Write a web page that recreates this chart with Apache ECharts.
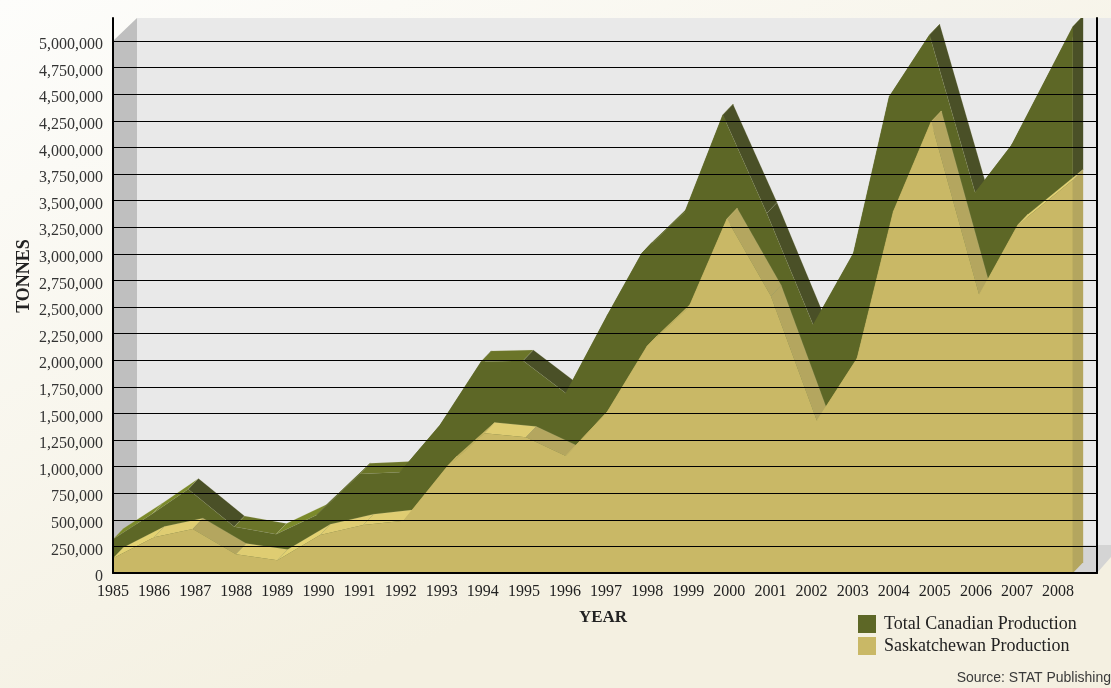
<!DOCTYPE html>
<html>
<head>
  <meta charset="UTF-8">
  <style>
    html, body { margin: 0; padding: 0; }
    #mychart { width: 1111px; height: 688px; }
  </style>
</head>
<body>
  <div id="mychart"></div>
  <script src="https://cdn.jsdelivr.net/npm/echarts@6/dist/echarts.min.js"></script>
  <script type="text/javascript">
    // values, in tonnes
    var totalValues = [317000, 554000, 787000, 435000, 364000, 545000, 930000, 946000, 1391000, 1986000, 1995000, 1689000,
      2415000, 3005000, 3396000, 4304000, 3380000, 2331000, 3005000, 4476000, 5056000, 3574000, 4022000, 5134000];
    var saskValues = [138000, 335000, 414000, 176000, 119000, 357000, 451000, 492000, 999000, 1313000, 1275000, 1100000,
      1516000, 2127000, 2503000, 3327000, 2603000, 1431000, 2018000, 3396000, 4241000, 2613000, 3271000, 3693000];

    // the vertices in the drawing do not sit exactly on the year ticks, so each one has its own position on the year scale
    var totalYears = [1985, 1985.95, 1986.83, 1987.95, 1988.97, 1989.96, 1991.01, 1991.98, 1992.96, 1993.96, 1994.98, 1996.02,
      1997.02, 1997.87, 1998.92, 1999.84, 2000.91, 2002.04, 2003.02, 2003.89, 2004.87, 2005.98, 2006.87, 2008.36];
    var saskYears = [1985, 1986.0, 1986.94, 1987.99, 1989.0, 1990.04, 1991.09, 1992.07, 1993.13, 1994.04, 1995.05, 1996.02,
      1997.03, 1997.99, 1999.02, 1999.94, 2001.01, 2002.13, 2003.11, 2003.99, 2004.91, 2006.08, 2007.02, 2008.36];

    var yearMin = 1985;
    var yearMax = 2008.947;
    var tonnesMax = 5216000;
    var tickStep = 250000;

    var legendNames = ['Total Canadian Production', 'Saskatchewan Production'];

    var totalColors = { front: '#5d6726', drop: '#4a5027', flat: '#6b7529', rise: '#7b8a2b' };
    var saskColors = { front: '#c9b866', drop: '#b4a65f', flat: '#dfcd72', rise: '#e3d272' };

    var serifFont = '"Liberation Serif", serif';
    var depth = [10.3, -10.8];   // how far the areas are extruded, px
    var wallDepth = [24, -28];   // how far back the walls sit, px

    var myChart = echarts.init(document.getElementById('mychart'));

    function pairs(years, values) {
      return years.map(function (y, i) { return [y, values[i]]; });
    }

    // the walls and floor behind the chart
    function renderWalls(params, api) {
      var bl = api.coord([yearMin, 0]);
      var tl = api.coord([yearMin, 5000000]);
      var br = api.coord([yearMax, 0]);
      var top = api.coord([yearMin, tonnesMax])[1];
      var pageRight = api.getWidth();
      var backX = bl[0] + wallDepth[0];
      var backY = bl[1] + wallDepth[1];
      function poly(points, fill) {
        return { type: 'polygon', shape: { points: points }, style: { fill: fill } };
      }
      return {
        type: 'group',
        children: [
          poly([[backX, top], [pageRight, top], [pageRight, backY], [backX, backY]], '#e9e9e9'),
          poly([tl, [backX, top], [backX, backY], bl], '#bfbfbf'),
          poly([bl, [backX, backY], [pageRight, backY], [pageRight, br[1] - 16], br], '#d4d4d4')
        ]
      };
    }

    // one side face per segment; the colour follows the slope as on the reference
    function extrudeRenderer(colors) {
      return function (params, api) {
        var a = api.coord([api.value(0), api.value(1)]);
        var b = api.coord([api.value(2), api.value(3)]);
        var slope = (b[1] - a[1]) / (b[0] - a[0]);
        var fill = colors.flat;
        var stroke = 'rgba(200,200,170,0.25)';
        if (slope > 0.3) fill = colors.drop;
        else if (slope < -0.85) { fill = colors.front; stroke = colors.front; }   // almost edge on
        else if (slope < -0.3) fill = colors.rise;
        return {
          type: 'polygon',
          shape: { points: [a, b, [b[0] + depth[0], b[1] + depth[1]], [a[0] + depth[0], a[1] + depth[1]]] },
          style: { fill: fill, stroke: stroke, lineWidth: 0.6 }
        };
      };
    }

    // the end cap on the right of an area, between two heights at the last year
    function renderCap(colors) {
      return function (params, api) {
        var a = api.coord([api.value(0), api.value(1)]);
        var b = api.coord([api.value(0), api.value(2)]);
        return {
          type: 'polygon',
          shape: { points: [a, [a[0] + depth[0], a[1] + depth[1]], [b[0] + depth[0], b[1] + depth[1]], b] },
          style: { fill: colors.drop }
        };
      };
    }

    function segments(years, values) {
      var out = [];
      for (var i = 0; i < years.length - 1; i++) {
        out.push([years[i], values[i], years[i + 1], values[i + 1]]);
      }
      return out;
    }

    var lastTotalYear = totalYears[totalYears.length - 1];
    var lastTotal = totalValues[totalValues.length - 1];
    var lastSask = saskValues[saskValues.length - 1];

    myChart.setOption({
      animation: false,
      backgroundColor: new echarts.graphic.LinearGradient(0, 0, 0.3, 1, [
        { offset: 0, color: '#fdfdfb' },
        { offset: 1, color: '#f4f0e1' }
      ]),
      textStyle: { fontFamily: serifFont },
      title: {
        text: 'Source: STAT Publishing',
        right: 0,
        top: 671,
        padding: 0,
        textStyle: { fontFamily: '"Liberation Sans", sans-serif', fontSize: 14, fontWeight: 'normal', color: '#3a3a3a' }
      },
      graphic: [{
        type: 'text',
        x: 24,
        y: 276,
        rotation: Math.PI / 2,
        style: {
          text: 'TONNES',
          x: 0, y: 0,
          align: 'center',
          verticalAlign: 'middle',
          font: 'bold 18px ' + serifFont,
          fill: '#222'
        }
      }],
      legend: {
        data: legendNames,
        orient: 'vertical',
        left: 858,
        top: 615,
        padding: 0,
        itemWidth: 18,
        itemHeight: 18,
        itemGap: 4,
        icon: 'rect',
        textStyle: { fontSize: 18, color: '#222', fontFamily: serifFont, padding: [0, 0, 0, 3] }
      },
      grid: { left: 113, right: 14, top: 18, bottom: 115 },
      xAxis: {
        type: 'value',
        min: yearMin,
        max: yearMax,
        interval: 1,
        name: 'YEAR',
        nameLocation: 'middle',
        nameGap: 36,
        nameTextStyle: { fontWeight: 'bold', fontSize: 17, color: '#222', fontFamily: serifFont, padding: [0, 4, 0, 0] },
        axisLine: { show: true, onZero: false, lineStyle: { color: '#000', width: 2 } },
        axisTick: { show: false },
        splitLine: { show: false },
        axisLabel: {
          margin: 11,
          fontSize: 16,
          color: '#222',
          showMaxLabel: false,
          formatter: function (v) { return v === Math.floor(v) ? String(v) : ''; }
        },
        z: 10
      },
      yAxis: [{
        type: 'value',
        min: 0,
        max: tonnesMax,
        interval: tickStep,
        axisLine: { show: true, lineStyle: { color: '#000', width: 2 } },
        axisTick: { show: false },
        splitLine: { show: true, showMaxLine: false, lineStyle: { color: '#000', width: 1 } },
        axisLabel: {
          margin: 10,
          fontSize: 16,
          color: '#333',
          verticalAlign: 'top',
          lineHeight: 8,
          showMaxLabel: false,
          formatter: function (v) { return v % tickStep === 0 ? v.toLocaleString('en-US') : ''; }
        },
        z: 10
      }, {
        type: 'value',
        position: 'right',
        min: 0,
        max: tonnesMax,
        interval: tickStep,
        axisLine: { show: true, lineStyle: { color: '#000', width: 2 } },
        axisTick: { show: false },
        axisLabel: { show: false },
        splitLine: { show: false },
        z: 10
      }],
      series: [
        {
          type: 'custom',
          name: 'walls',
          silent: true,
          clip: false,
          z: 1,
          data: [[yearMin, 0]],
          encode: { x: 0, y: 1 },
          renderItem: renderWalls
        },
        {
          type: 'custom',
          name: 'total sides',
          silent: true,
          clip: true,
          z: 2,
          data: segments(totalYears, totalValues),
          encode: { x: [0, 2], y: [1, 3] },
          renderItem: extrudeRenderer(totalColors)
        },
        {
          type: 'custom',
          name: 'total cap',
          silent: true,
          clip: true,
          z: 2,
          data: [[lastTotalYear, lastTotal, lastSask]],
          encode: { x: 0, y: [1, 2] },
          renderItem: renderCap(totalColors)
        },
        {
          type: 'line',
          name: legendNames[0],
          data: pairs(totalYears, totalValues),
          showSymbol: false,
          z: 3,
          color: totalColors.front,
          lineStyle: { width: 0 },
          areaStyle: { color: totalColors.front, opacity: 1 }
        },
        {
          type: 'custom',
          name: 'sask sides',
          silent: true,
          clip: true,
          z: 4,
          data: segments(saskYears, saskValues),
          encode: { x: [0, 2], y: [1, 3] },
          renderItem: extrudeRenderer(saskColors)
        },
        {
          type: 'custom',
          name: 'sask cap',
          silent: true,
          clip: true,
          z: 4,
          data: [[lastTotalYear, lastSask, 0]],
          encode: { x: 0, y: [1, 2] },
          renderItem: renderCap(saskColors)
        },
        {
          type: 'line',
          name: legendNames[1],
          data: pairs(saskYears, saskValues),
          showSymbol: false,
          z: 5,
          color: saskColors.front,
          lineStyle: { width: 0 },
          areaStyle: { color: saskColors.front, opacity: 1 }
        }
      ]
    });
  </script>
</body>
</html>
